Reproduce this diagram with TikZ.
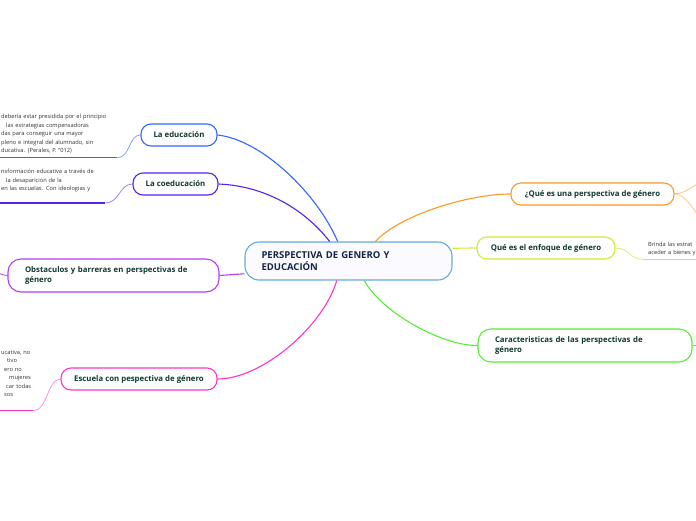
\documentclass[tikz,border=0pt]{standalone}
\usepackage{fontspec}
\setmainfont{Open Sans}
\definecolor{TopicText}{RGB}{16,56,48}
\definecolor{CentralText}{RGB}{22,36,72}
\definecolor{CentralLine}{RGB}{102,170,221}
\definecolor{EduBlue}{RGB}{51,102,255}
\definecolor{CoeduIndigo}{RGB}{85,34,238}
\definecolor{ObstViolet}{RGB}{180,60,240}
\definecolor{EscMagenta}{RGB}{255,51,204}
\definecolor{QueOrange}{RGB}{255,153,34}
\definecolor{EnfYellow}{RGB}{204,238,51}
\definecolor{CarGreen}{RGB}{85,238,51}

\begin{document}
\begin{tikzpicture}[x=1pt,y=-1pt,
    topic/.style={draw, rounded corners=10pt, line width=1.1pt, fill=white, text=TopicText,
      font=\fontsize{7.8}{10.5}\selectfont\bfseries, minimum height=22pt, inner sep=0pt},
    widetopic/.style={topic, rounded corners=13pt, minimum height=33pt, inner xsep=17pt, align=left},
    leaf/.style={font=\fontsize{5.7}{8.5}\selectfont, text=black!80, align=left,
      anchor=south west, inner xsep=1pt},
    link/.style={line width=1.1pt},
    underline/.style={line width=1.3pt},
    twig/.style={line width=0.8pt}]
  \useasboundingbox (0,0) rectangle (696,520);
  \clip (0,0) rectangle (696,520);
  \fill[white] (0,0) rectangle (696,520);

  % Central topic
  \node[draw=CentralLine, line width=1.1pt, rounded corners=14pt, fill=blue!2, text=CentralText,
    font=\fontsize{9.5}{12.5}\selectfont\bfseries, minimum width=207pt, minimum height=38pt,
    inner xsep=16.5pt, text width=174pt, align=left] (central) at (348.5,261)
    {PERSPECTIVA DE GENERO Y\\EDUCACIÓN};

  % Main topics
  \node[topic, draw=EduBlue, minimum width=76pt] (edu) at (179,135) {La educación};
  \node[topic, draw=CoeduIndigo, minimum width=85pt] (coedu) at (175.5,184) {La coeducación};
  \node[widetopic, draw=ObstViolet, text width=177pt] (obst) at (113.5,275.5)
    {Obstaculos y barreras en perspectivas de\\género};
  \node[topic, draw=EscMagenta, minimum width=156pt] (esc) at (139,379) {Escuela con pespectiva de género};
  \node[topic, draw=QueOrange, minimum width=163pt] (que) at (592.5,194) {¿Qué es una perspectiva de género};
  \node[topic, draw=EnfYellow, minimum width=138pt] (enf) at (546,248) {Qué es el enfoque de género};
  \node[widetopic, draw=CarGreen, text width=180pt] (car) at (585,345.5)
    {Caracteristicas de las perspectivas de\\género};

  % Branches
  \draw[link, EduBlue] (edu.east) .. controls +(45,5) and +(-20,-47) .. (central.119);
  \draw[link, CoeduIndigo] (coedu.east) .. controls +(47,2) and +(-25,-32) .. (central.134);
  \draw[link, ObstViolet] (obst.east) .. controls +(12,0) and +(-12,0) .. (central.187);
  \draw[link, EscMagenta] (esc.east) .. controls +(45,0) and +(-13,45) .. (central.239);
  \draw[link, QueOrange] (central.36) .. controls +(25,-27) and +(-41,0) .. (que.west);
  \draw[link, EnfYellow] (central.7) .. controls +(10,0) and +(-10,0) .. (enf.west);
  \draw[link, CarGreen] (central.309) .. controls +(16,30) and +(-38,0) .. (car.west);

  % Leaves
  \node[leaf, text width=115pt, inner ysep=3.8pt] (eduleaf) at (0,157.7)
    {debería estar presidida por el principio\\\leavevmode\kern5pt las estrategias compensadoras\\das para conseguir una mayor\\pleno e integral del alumnado, sin\\ducativa. (Perales, P. "012)};
  \node[leaf, text width=103pt, inner ysep=10.8pt] (coeduleaf) at (0,203)
    {nsformación educativa a través de\\\leavevmode\kern5pt la desaparición de la\\en las escuelas. Con ideologias y};
  \node[leaf, text width=31pt, inner ysep=13.7pt] (escleaf) at (0,410.7)
    {ucativa, no\\\leavevmode\kern6pt tivo\\\leavevmode\kern3pt ero no\\\leavevmode\kern8pt mujeres\\\leavevmode\kern5pt car todas\\\leavevmode\kern3pt sos};
  \node[leaf, text width=80pt, inner xsep=5pt, inner ysep=3pt] (enfleaf) at (643,259.3)
    {Brinda las estrat\\aceder a bienes y};

  \coordinate (obstout) at (-20,266);
  \coordinate (queup) at (720,176);
  \coordinate (quedown) at (712,252);
  \coordinate (carout) at (710,346);

  \draw[underline, EduBlue] (eduleaf.south west) -- (eduleaf.south east);
  \draw[twig, EduBlue!60] (eduleaf.south east) .. controls +(13,0) and +(-12,0) .. (edu.west);
  \draw[underline, CoeduIndigo] (coeduleaf.south west) -- (coeduleaf.south east);
  \draw[twig, CoeduIndigo!55] (coeduleaf.south east) .. controls +(14,0) and +(-13,0) .. (coedu.west);
  \draw[underline, EscMagenta] (escleaf.south west) -- (escleaf.south east);
  \draw[twig, EscMagenta!55] (escleaf.south east) .. controls +(14,0) and +(-13,0) .. (esc.west);
  \draw[underline, EnfYellow] (enfleaf.south west) -- (enfleaf.south east);
  \draw[twig, EnfYellow!70] (enf.east) .. controls +(14,0) and +(-14,0) .. (enfleaf.south west);
  \draw[twig, ObstViolet] (obst.west) .. controls +(-8,0) and +(8,0) .. (obstout);
  \draw[twig, QueOrange!55] (que.east) .. controls +(14,0) and +(-18,0) .. (queup);
  \draw[twig, QueOrange!55] (que.east) .. controls +(12,0) and +(-6,-30) .. (quedown);
  \draw[twig, CarGreen] (car.east) -- (carout);
\end{tikzpicture}
\end{document}
